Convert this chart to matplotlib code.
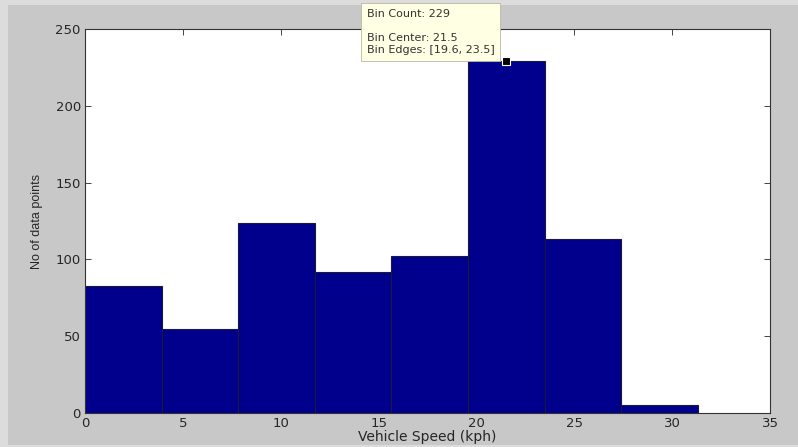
import matplotlib
matplotlib.use("Agg")
import matplotlib.pyplot as plt
from matplotlib.patches import Rectangle
import numpy as np

# Histogram of vehicle speed samples (8 bins)
bin_edges = [0.0, 3.91, 7.83, 11.74, 15.65, 19.56, 23.48, 27.39, 31.3]
bin_counts = [83, 55, 124, 92, 102, 229, 113, 5]
x_ticks = [0, 5, 10, 15, 20, 25, 30, 35]
y_ticks = [0, 50, 100, 150, 200, 250]

# Selected bin shown in the data tip
tip_bin = 5
tip_center = 21.5

plt.rcParams['font.family'] = ['DejaVu Sans']

fig = plt.figure(figsize=(7.98, 4.47), dpi=100, facecolor='#dcdcdc')
# window panel inside a light frame
fig.add_artist(Rectangle((8 / 798, 2 / 447), 1, 1 - 7 / 447,
                         transform=fig.transFigure, facecolor='#c8c8c8',
                         edgecolor='none', zorder=-5))

ax = fig.add_axes([0.1065, 0.076, 0.8585, 0.859])
ax.set_facecolor('white')

edges = np.array(bin_edges)
widths = np.diff(edges)
centers = edges[:-1] + widths / 2
ax.bar(centers, bin_counts, width=widths, color='#00008c',
       edgecolor='#1a1a3a', linewidth=0.8, align='center', zorder=2)

ax.set_xlim(0, 35)
ax.set_ylim(0, 250)
ax.set_xticks(x_ticks)
ax.set_yticks(y_ticks)
ax.tick_params(direction='in', length=4, width=0.6, top=True, right=True,
               labelsize=9.5, colors='#262626', pad=3)
for s in ax.spines.values():
    s.set_linewidth(0.8)
    s.set_color('#333333')

ax.set_xlabel('Vehicle Speed (kph)', fontsize=10, color='#262626', labelpad=0)
ax.set_ylabel('No of data points', fontsize=9, color='#262626', labelpad=9,
              family=['Liberation Sans Narrow', 'DejaVu Sans Condensed',
                      'Liberation Sans'])

# Data tip marker and box
ax.plot([tip_center], [bin_counts[tip_bin]], marker='s', markersize=6,
        color='black', markeredgecolor='white', markeredgewidth=0.8,
        zorder=5, clip_on=False)
tip_text = (f"Bin Count: {bin_counts[tip_bin]}\n\n"
            f"Bin Center: {tip_center}\n"
            f"Bin Edges: [{bin_edges[tip_bin]:.1f}, {bin_edges[tip_bin + 1]:.1f}]")
fig.text(367 / 798, 1 - 9 / 447, tip_text, fontsize=8, color='#333333',
         va='top', ha='left', linespacing=1.25, zorder=10,
         bbox=dict(boxstyle='square,pad=0.5', facecolor='#ffffe4',
                   edgecolor='#b8b8a8', linewidth=0.6))

fig.savefig('out.png', dpi=100, facecolor=fig.get_facecolor())
